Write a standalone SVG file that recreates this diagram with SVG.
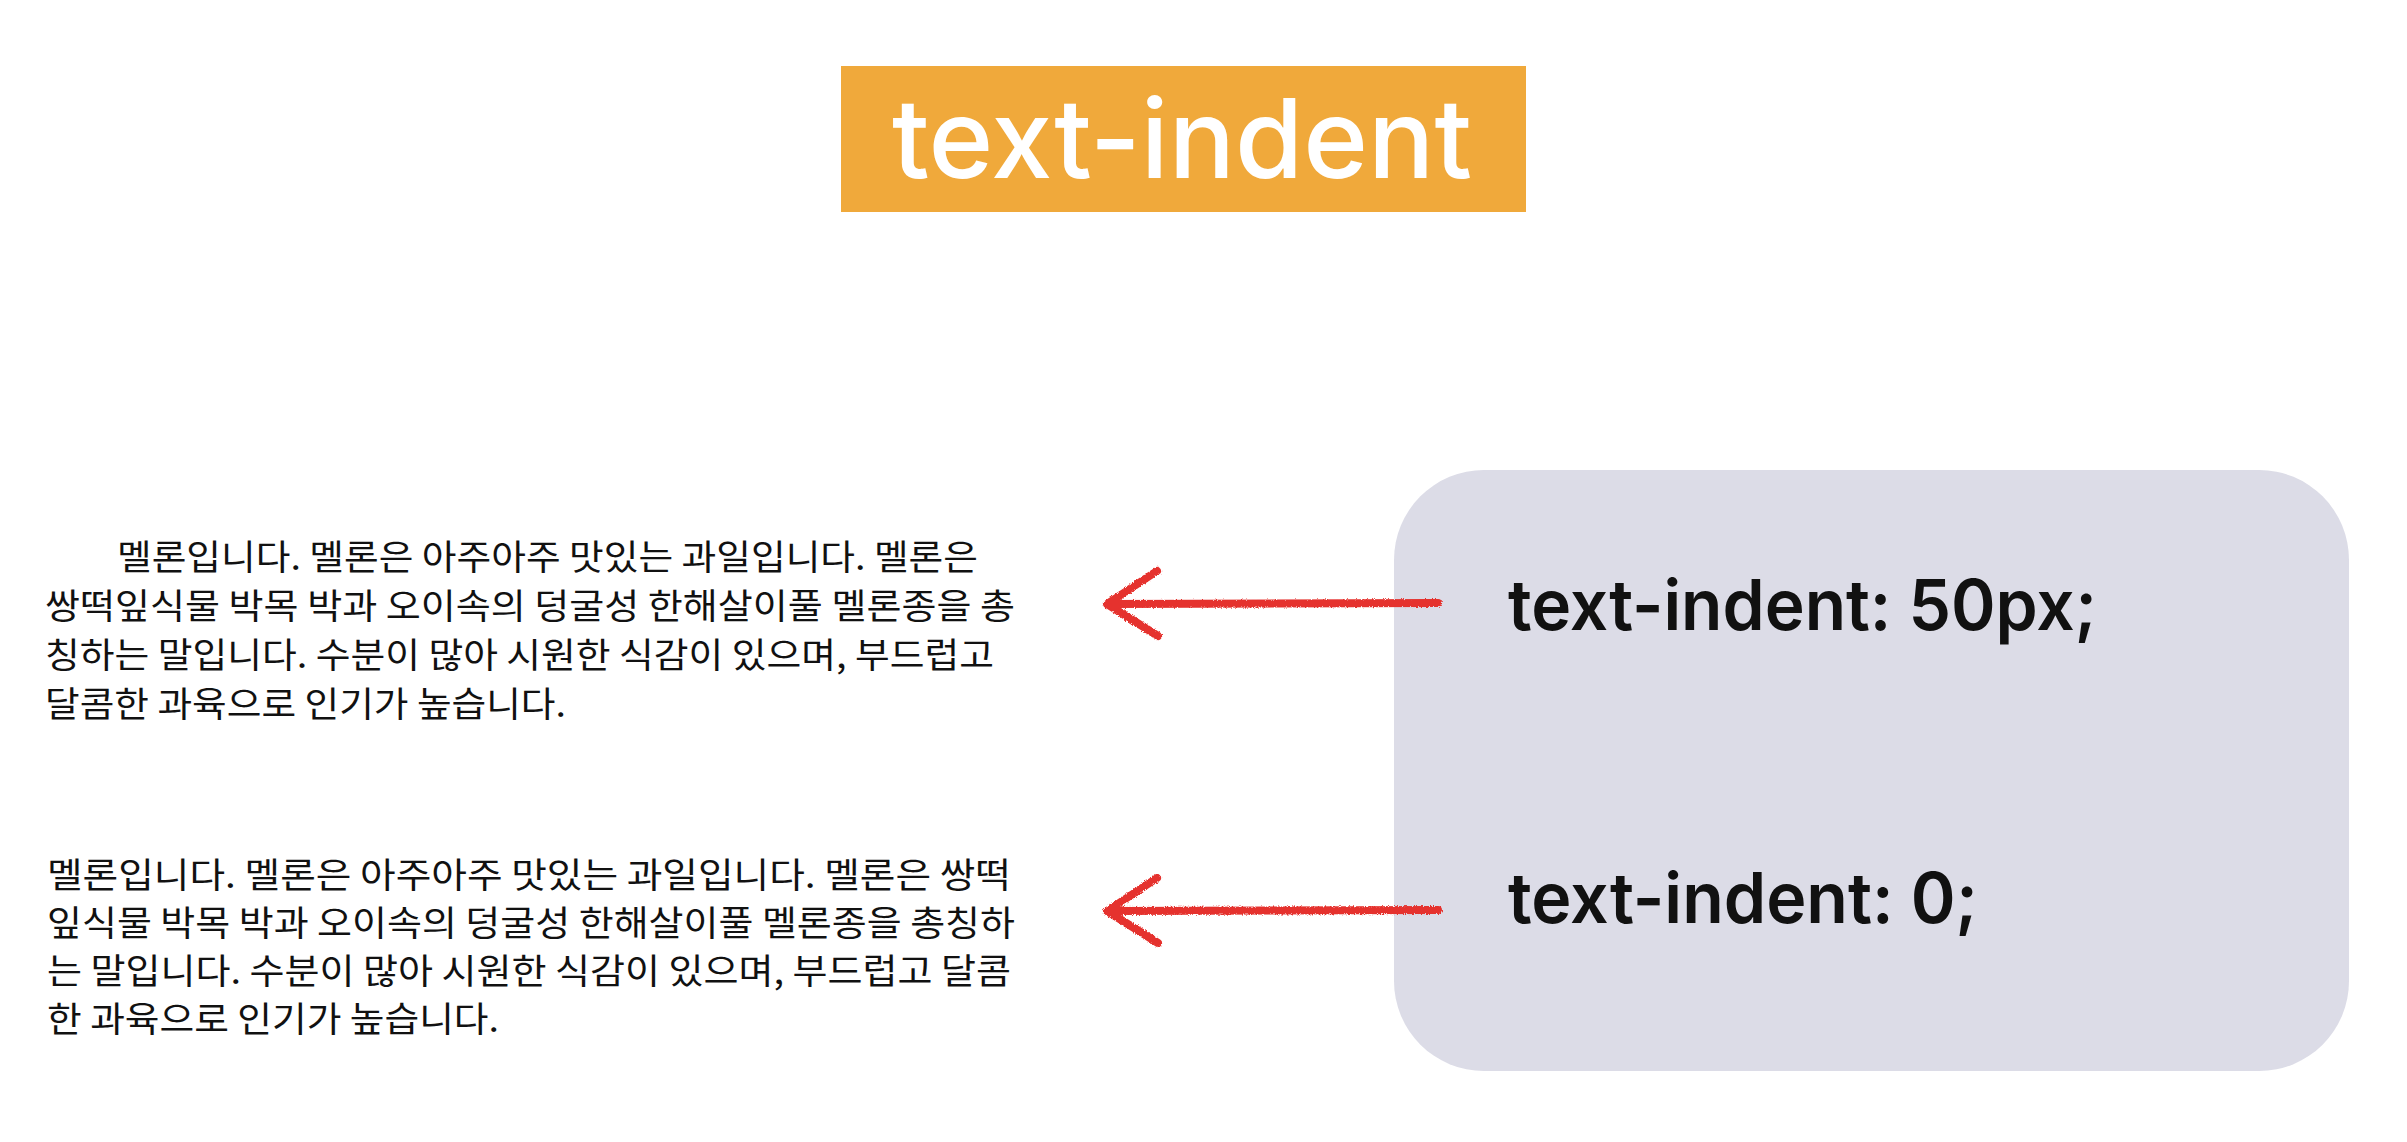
<svg xmlns="http://www.w3.org/2000/svg" width="2407" height="1142" viewBox="0 0 2407 1142">
  <style>
    .title { font-family: Inter, "Noto Sans", "Liberation Sans", sans-serif; font-weight: 500; font-size: 110px; fill: #ffffff; }
    .code { font-family: Inter, "Noto Sans", "Liberation Sans", sans-serif; font-weight: 600; font-size: 70px; fill: #111111; }
    .para { font-family: "Noto Sans CJK KR", "Noto Sans", sans-serif; font-weight: 400; font-size: 35px; fill: #111111; }
    .arrow { fill: none; stroke: #e5312d; stroke-width: 8; stroke-linecap: round; stroke-linejoin: round; filter: url(#crayon); }
  </style>
  <defs>
    <!-- slightly ragged edge, like a marker stroke -->
    <filter id="crayon" x="-10%" y="-50%" width="120%" height="200%">
      <feTurbulence type="fractalNoise" baseFrequency="0.9" numOctaves="2" seed="3" result="noise"/>
      <feDisplacementMap in="SourceGraphic" in2="noise" scale="3.5" xChannelSelector="R" yChannelSelector="G"/>
    </filter>
  </defs>

  <rect width="2407" height="1142" fill="#ffffff"/>

  <g id="title">
    <rect x="841" y="66" width="685" height="146" fill="#f0a93b"/>
    <text class="title" x="892" y="178" textLength="580" lengthAdjust="spacingAndGlyphs">text-indent</text>
  </g>

  <g id="paragraph-indent">
    <text class="para" x="117" y="570" textLength="861" lengthAdjust="spacingAndGlyphs">멜론입니다. 멜론은 아주아주 맛있는 과일입니다. 멜론은</text>
    <text class="para" x="45" y="619" textLength="970" lengthAdjust="spacingAndGlyphs">쌍떡잎식물 박목 박과 오이속의 덩굴성 한해살이풀 멜론종을 총</text>
    <text class="para" x="45" y="668" textLength="949" lengthAdjust="spacingAndGlyphs">칭하는 말입니다. 수분이 많아 시원한 식감이 있으며, 부드럽고</text>
    <text class="para" x="45" y="717" textLength="521" lengthAdjust="spacingAndGlyphs">달콤한 과육으로 인기가 높습니다.</text>
  </g>

  <g id="paragraph-plain">
    <text class="para" x="47" y="888" textLength="964" lengthAdjust="spacingAndGlyphs">멜론입니다. 멜론은 아주아주 맛있는 과일입니다. 멜론은 쌍떡</text>
    <text class="para" x="47" y="936" textLength="968" lengthAdjust="spacingAndGlyphs">잎식물 박목 박과 오이속의 덩굴성 한해살이풀 멜론종을 총칭하</text>
    <text class="para" x="47" y="984" textLength="964" lengthAdjust="spacingAndGlyphs">는 말입니다. 수분이 많아 시원한 식감이 있으며, 부드럽고 달콤</text>
    <text class="para" x="47" y="1032" textLength="452" lengthAdjust="spacingAndGlyphs">한 과육으로 인기가 높습니다.</text>
  </g>

  <g id="code-panel">
    <rect x="1394" y="470" width="955" height="601" rx="90" ry="90" fill="#dcdce7"/>
    <text class="code" x="1508" y="630" textLength="589" lengthAdjust="spacingAndGlyphs">text-indent: 50px;</text>
    <text class="code" x="1508" y="923" textLength="470" lengthAdjust="spacingAndGlyphs">text-indent: 0;</text>
  </g>

  <g id="connectors">
    <path class="arrow" d="M1438 603 L1108 604 M1157 571 L1107 604 L1158 636"/>
    <path class="arrow" d="M1438 910 L1108 911 M1157 878 L1107 911 L1158 943"/>
  </g>
</svg>
